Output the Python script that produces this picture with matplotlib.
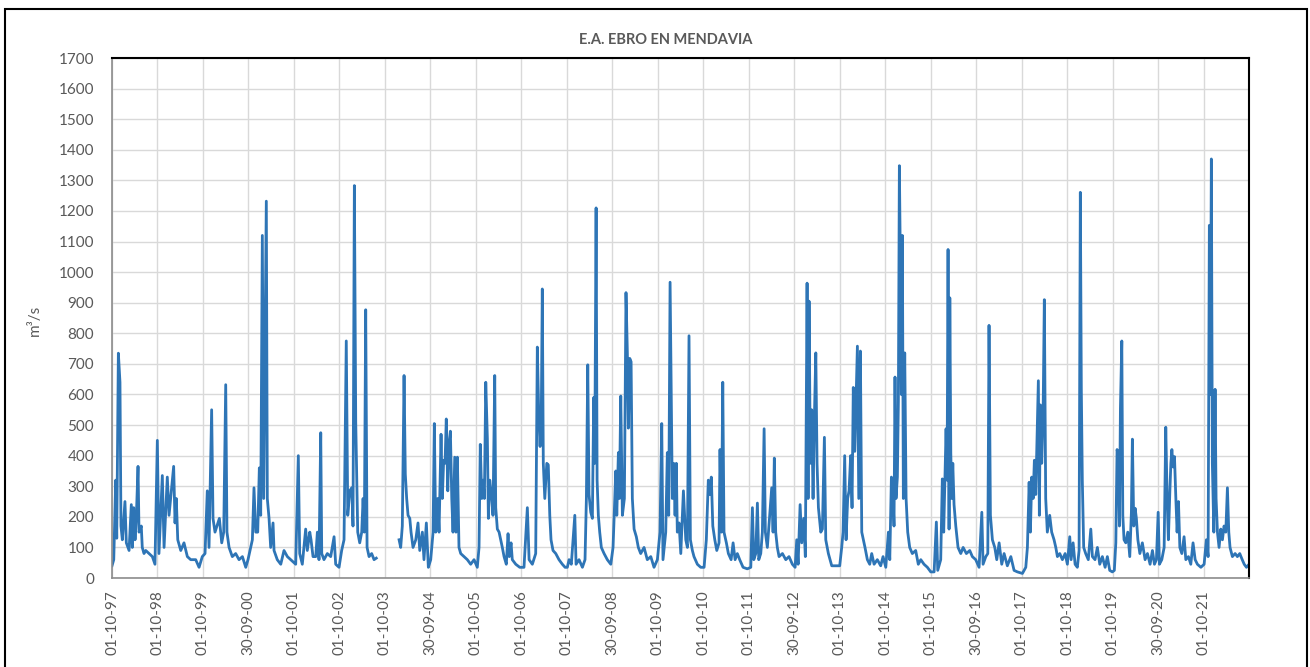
# Caudal diario E.A. Ebro en Mendavia (1997-2022)
import numpy as np
import pandas as pd
import matplotlib
matplotlib.use("Agg")
import matplotlib.pyplot as plt
from matplotlib.patches import Rectangle

plt.rcParams['font.family'] = ['Lato', 'DejaVu Sans']

# %% datos: (días desde 01-10-1997, caudal m3/s)
inicio = pd.Timestamp("1997-10-01")
fin = pd.Timestamp("2022-09-30")

tramo_97_01 = [(0, 40), (14, 60), (30, 320), (38, 130), (51, 735), (64, 640), (72, 170), (83, 125),
               (104, 250), (115, 115), (137, 90), (155, 240), (163, 100), (174, 230), (185, 125),
               (195, 195), (209, 365), (217, 150), (235, 170), (243, 100), (257, 80), (271, 90),
               (297, 80), (324, 70), (345, 45), (364, 450), (377, 80), (404, 335), (418, 100),
               (444, 330), (458, 205), (495, 365), (506, 180), (516, 260), (528, 125), (552, 90),
               (578, 115), (605, 70), (632, 60), (672, 60), (699, 35), (725, 70), (747, 80),
               (765, 285), (779, 100), (800, 550), (811, 195), (827, 150), (862, 195), (881, 115),
               (897, 150), (913, 632), (923, 150), (940, 100), (966, 70), (993, 80), (1020, 60),
               (1047, 70), (1074, 35), (1092, 60), (1114, 100), (1127, 125), (1140, 295), (1154, 150),
               (1170, 150), (1183, 360), (1194, 205), (1207, 1120), (1218, 260), (1239, 1232),
               (1247, 260), (1261, 195), (1274, 100), (1293, 180), (1301, 90), (1327, 60),
               (1355, 45), (1381, 90), (1408, 70), (1435, 60), (1475, 45)]

tramo_01_03 = [(1496, 400), (1507, 80), (1528, 45), (1555, 160), (1568, 90), (1588, 150), (1598, 125),
               (1614, 70), (1636, 70), (1649, 150), (1662, 60), (1676, 475), (1684, 80), (1702, 60),
               (1729, 80), (1756, 70), (1783, 135), (1796, 45), (1823, 35), (1844, 90), (1863, 125),
               (1881, 775), (1893, 205), (1909, 285), (1925, 295), (1935, 170), (1946, 1283),
               (1957, 510), (1965, 320), (1973, 150), (1989, 115), (2005, 150), (2016, 260),
               (2026, 150), (2037, 877), (2048, 100), (2064, 70), (2085, 80), (2104, 60), (2122, 65)]

# sin datos en la segunda mitad de 2003
hueco = [(2210, np.nan)]

tramo_03_06 = [(2305, 125), (2318, 100), (2331, 170), (2345, 662), (2355, 340), (2366, 260), (2377, 205),
               (2391, 195), (2401, 150), (2417, 100), (2439, 125), (2457, 180), (2471, 90), (2492, 150),
               (2505, 60), (2524, 180), (2540, 35), (2559, 60), (2578, 150), (2588, 505), (2599, 150),
               (2615, 260), (2626, 150), (2642, 470), (2652, 260), (2663, 385), (2674, 375),
               (2684, 520), (2696, 285), (2706, 440), (2717, 480), (2728, 260), (2738, 150),
               (2752, 395), (2762, 150), (2773, 395), (2786, 100), (2800, 80), (2827, 70), (2853, 60),
               (2880, 45), (2907, 60), (2933, 35), (2947, 100), (2957, 437), (2969, 260), (2979, 320),
               (2990, 260), (3001, 640), (3014, 455), (3022, 195), (3033, 320), (3049, 260),
               (3059, 205), (3073, 662), (3081, 230), (3094, 160), (3108, 150), (3121, 125),
               (3134, 100), (3148, 70), (3166, 45), (3180, 145), (3190, 70), (3204, 115), (3214, 60),
               (3242, 45)]

tramo_06_10 = [(3274, 35), (3308, 35), (3335, 230), (3349, 60), (3375, 45), (3402, 80), (3415, 755),
               (3426, 545), (3437, 430), (3447, 540), (3455, 945), (3463, 375), (3475, 260),
               (3491, 375), (3503, 370), (3515, 205), (3525, 125), (3541, 90), (3563, 80), (3589, 60),
               (3616, 45), (3638, 35), (3656, 35), (3670, 60), (3688, 45), (3716, 205), (3726, 45),
               (3750, 60), (3777, 35), (3798, 60), (3809, 260), (3820, 697), (3830, 273), (3844, 215),
               (3857, 195), (3868, 590), (3876, 375), (3887, 1210), (3895, 320), (3905, 205),
               (3916, 150), (3929, 100), (3951, 80), (3977, 60), (4005, 45), (4023, 100), (4045, 350),
               (4053, 205), (4066, 410), (4074, 260), (4085, 595), (4098, 205), (4114, 260),
               (4127, 933), (4138, 735), (4146, 490), (4157, 718), (4168, 707), (4178, 260),
               (4192, 160), (4210, 135), (4226, 100), (4245, 80), (4272, 100), (4298, 60), (4326, 70),
               (4352, 35), (4379, 60), (4400, 150), (4414, 505), (4424, 60), (4446, 150), (4459, 410),
               (4470, 205), (4481, 967), (4491, 560), (4499, 260), (4510, 375), (4521, 205),
               (4531, 375), (4539, 150), (4553, 180), (4567, 80), (4588, 285), (4607, 125),
               (4620, 100), (4633, 792), (4644, 125), (4660, 90), (4673, 70), (4700, 45), (4727, 35)]

tramo_10_14 = [(4754, 35), (4772, 125), (4788, 320), (4800, 273), (4812, 330), (4824, 170), (4840, 125),
               (4856, 90), (4874, 115), (4882, 420), (4893, 150), (4904, 640), (4914, 150), (4933, 115),
               (4949, 80), (4971, 60), (4987, 115), (5003, 60), (5021, 80), (5040, 60), (5067, 35),
               (5101, 30), (5129, 35), (5142, 230), (5153, 60), (5169, 80), (5182, 245), (5193, 60),
               (5209, 80), (5222, 150), (5236, 488), (5246, 150), (5262, 100), (5297, 295),
               (5308, 150), (5318, 392), (5329, 150), (5342, 100), (5356, 70), (5383, 80), (5410, 60),
               (5436, 70), (5463, 45), (5485, 35), (5498, 125), (5509, 45), (5525, 240), (5538, 115),
               (5554, 195), (5567, 70), (5581, 964), (5589, 260), (5597, 905), (5607, 375),
               (5618, 550), (5629, 260), (5639, 510), (5651, 736), (5661, 375), (5672, 230),
               (5691, 150), (5704, 160), (5720, 460), (5731, 125), (5752, 80), (5779, 40), (5843, 40),
               (5859, 100), (5870, 150), (5883, 400), (5894, 125), (5907, 260), (5918, 285),
               (5931, 400), (5942, 230), (5952, 623), (5964, 414), (5985, 758), (5996, 260),
               (6009, 742), (6020, 150), (6046, 100), (6065, 60), (6084, 45), (6100, 80), (6119, 45),
               (6145, 60), (6172, 40), (6191, 70), (6213, 35)]

tramo_14_18 = [(6234, 150), (6245, 60), (6258, 330), (6269, 295), (6279, 170), (6287, 657), (6295, 260),
               (6306, 330), (6314, 578), (6322, 1348), (6330, 1029), (6338, 600), (6346, 1120),
               (6354, 260), (6365, 736), (6376, 260), (6389, 150), (6405, 100), (6426, 80), (6453, 90),
               (6474, 45), (6494, 60), (6520, 45), (6547, 35), (6574, 20), (6601, 20), (6619, 183),
               (6630, 25), (6654, 60), (6667, 324), (6678, 150), (6697, 488), (6705, 320),
               (6713, 1074), (6721, 160), (6727, 916), (6735, 408), (6743, 260), (6751, 375),
               (6761, 240), (6775, 170), (6793, 100), (6815, 80), (6834, 100), (6860, 80), (6887, 90),
               (6908, 70), (6935, 60), (6962, 35), (6984, 215), (6994, 45), (7016, 70), (7032, 80),
               (7042, 826), (7053, 205), (7069, 125), (7088, 100), (7104, 60), (7123, 115), (7144, 45),
               (7163, 80), (7189, 40), (7217, 70), (7243, 25), (7270, 20), (7310, 15), (7337, 35),
               (7350, 100), (7364, 313), (7374, 150), (7385, 330), (7396, 260), (7406, 385),
               (7417, 273), (7428, 476), (7438, 645), (7446, 205), (7454, 566), (7465, 375),
               (7476, 533), (7486, 910), (7497, 260), (7510, 150), (7529, 205), (7545, 150),
               (7564, 125), (7578, 100), (7591, 70), (7610, 80), (7631, 60), (7653, 80), (7671, 45)]

tramo_18_22 = [(7690, 135), (7701, 60), (7717, 115), (7733, 45), (7751, 35), (7765, 90), (7775, 1261),
               (7783, 617), (7791, 318), (7802, 100), (7818, 80), (7839, 60), (7859, 160), (7872, 70),
               (7893, 60), (7912, 100), (7931, 45), (7952, 70), (7974, 35), (7992, 70), (8011, 25),
               (8032, 20), (8048, 25), (8060, 115), (8070, 420), (8081, 397), (8089, 170), (8097, 555),
               (8108, 775), (8116, 205), (8126, 125), (8140, 115), (8156, 150), (8172, 70), (8185, 215),
               (8193, 454), (8204, 170), (8215, 228), (8225, 195), (8237, 125), (8253, 80), (8273, 115),
               (8295, 60), (8314, 80), (8335, 45), (8354, 90), (8370, 45), (8386, 60), (8400, 215),
               (8410, 45), (8429, 60), (8448, 100), (8461, 493), (8472, 260), (8482, 125), (8494, 285),
               (8502, 375), (8510, 420), (8520, 363), (8531, 397), (8542, 260), (8552, 150),
               (8563, 250), (8574, 100), (8590, 80), (8608, 135), (8622, 60), (8643, 70), (8662, 45),
               (8680, 115), (8697, 60), (8715, 45), (8743, 35), (8769, 45), (8787, 125), (8801, 70),
               (8811, 1153), (8819, 600), (8827, 1370), (8835, 375), (8847, 150), (8857, 617),
               (8865, 260), (8876, 150), (8889, 100), (8903, 160), (8916, 125), (8929, 170),
               (8943, 150), (8956, 295), (8967, 150), (8977, 100), (8996, 70), (9018, 80), (9036, 70),
               (9055, 80), (9075, 60), (9091, 45), (9109, 35), (9130, 45)]

etiquetas = ["01-10-97", "01-10-98", "01-10-99", "30-09-00", "01-10-01", "01-10-02", "01-10-03",
             "30-09-04", "01-10-05", "01-10-06", "01-10-07", "30-09-08", "01-10-09", "01-10-10",
             "01-10-11", "30-09-12", "01-10-13", "01-10-14", "01-10-15", "30-09-16", "01-10-17",
             "01-10-18", "01-10-19", "30-09-20", "01-10-21"]

# %%
serie = (tramo_97_01 + tramo_01_03 + hueco + tramo_03_06 + tramo_06_10
         + tramo_10_14 + tramo_14_18 + tramo_18_22)
dias, caudal = zip(*serie)
fechas = inicio + pd.to_timedelta(np.array(dias), unit="D")

gris = "#595959"

fig = plt.figure(figsize=(13.1, 6.67), dpi=100)
ax = fig.add_axes([0.0855, 0.1334, 0.868, 0.7796])

ax.plot(fechas, np.array(caudal, dtype=float), color="#2E75B6", lw=2.0)

ax.set_ylim(0, 1700)
ax.set_yticks(np.arange(0, 1701, 100))
ax.set_xlim(inicio, fin)
ax.set_xticks(pd.to_datetime(etiquetas, format="%d-%m-%y"))
ax.set_xticklabels(etiquetas, rotation=90)

ax.grid(color="#d9d9d9", lw=1)
ax.set_axisbelow(True)
ax.tick_params(length=0, labelsize=11, labelcolor=gris)
ax.tick_params(axis="y", pad=13)
ax.tick_params(axis="x", pad=9)

for lado in ["top", "right"]:
    ax.spines[lado].set_color("black")
    ax.spines[lado].set_linewidth(1.5)
for lado in ["left", "bottom"]:
    ax.spines[lado].set_color("#8c8c8c")
    ax.spines[lado].set_linewidth(1.2)

fig.text(0.508, 0.94, "E.A. EBRO EN MENDAVIA", ha="center", va="center",
         fontsize=10.5, fontweight="bold", color=gris)
fig.text(0.027, 0.52, "m³/s", rotation=90, ha="center", va="center",
         fontsize=11, color=gris)

# marco exterior del gráfico
fig.add_artist(Rectangle((0.0038, -0.05), 0.9939, 1.0365, transform=fig.transFigure,
                         fill=False, ec="black", lw=1.5))

fig.savefig("out.png", dpi=100)
